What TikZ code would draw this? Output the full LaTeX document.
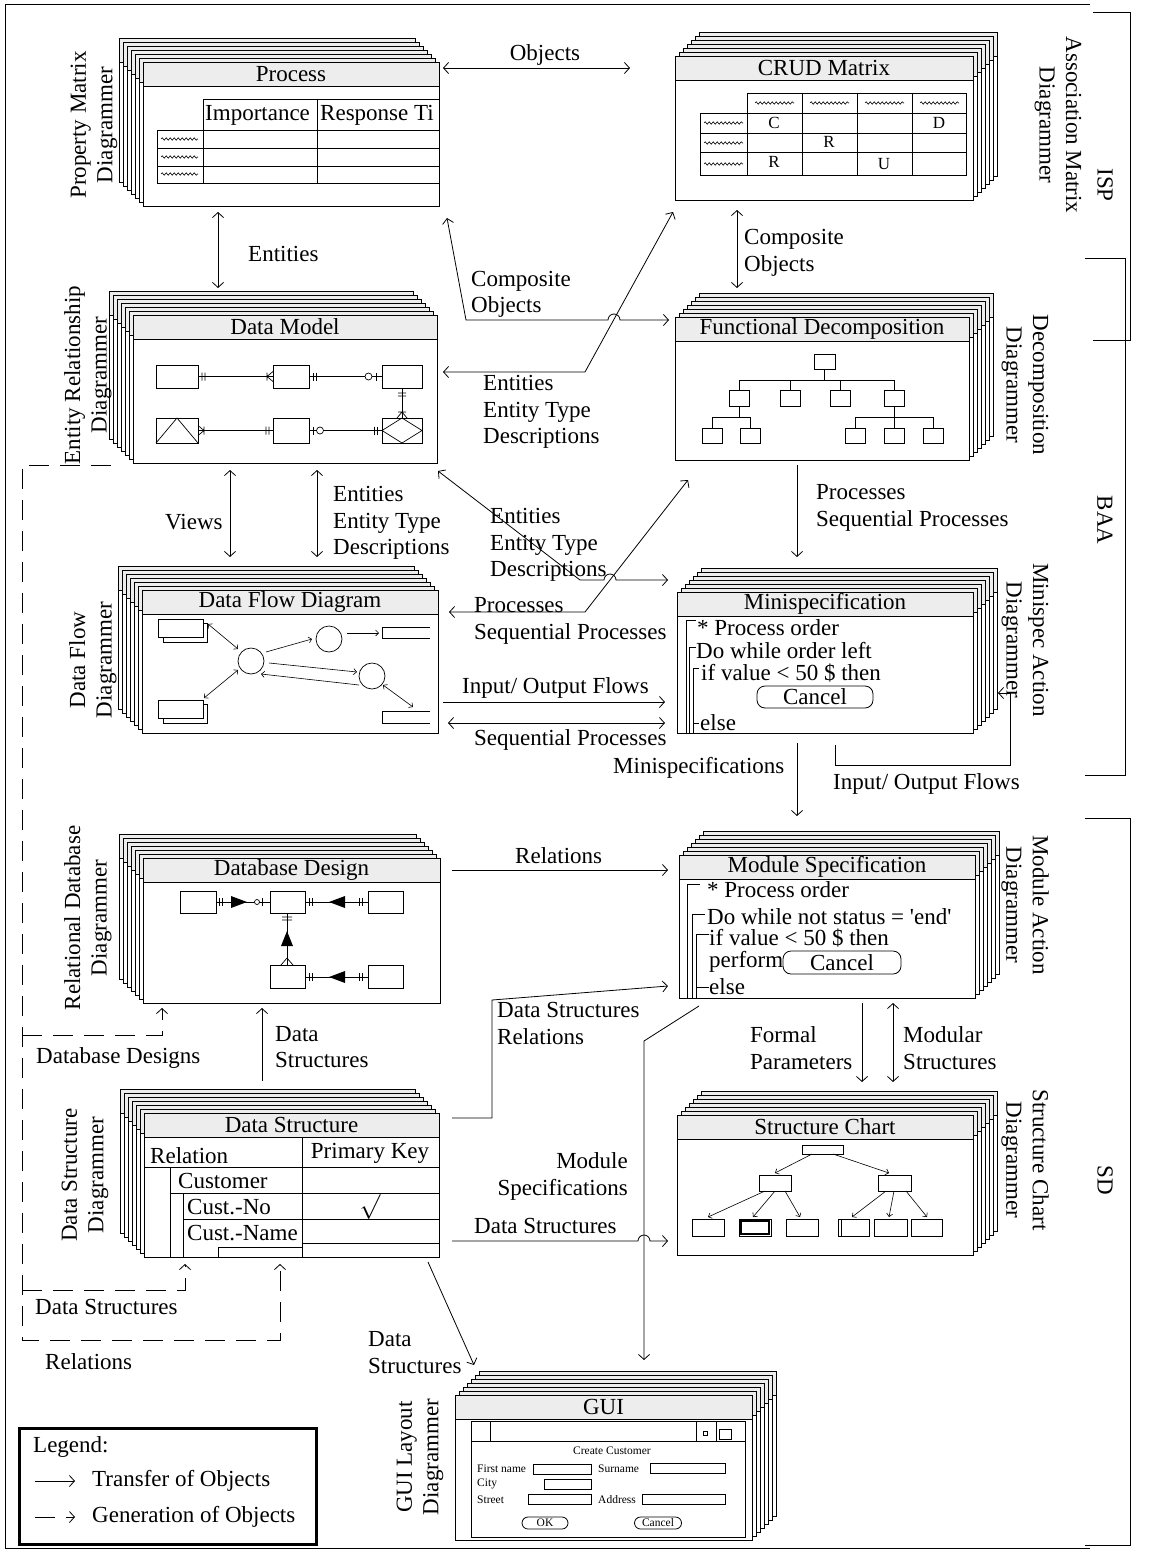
\documentclass[tikz,border=0pt]{standalone}
\usepackage{fontspec}
\setmainfont{Liberation Serif}
\usetikzlibrary{arrows.meta,decorations.pathmorphing,calc}
\colorlet{barfill}{black!7}

\newcommand\lblsize{\fontsize{23}{26.5}\selectfont}

% stack of diagram windows: name, x, y, width, height, shift sign, title
\newcommand\cardstack[7]{%
  \foreach \k in {6,5,...,1}{
    \draw[cardline,fill=white] (#2#6\k*4,#3-\k*4) rectangle ++(#4,#5);
    \draw[cardline,fill=barfill] (#2#6\k*4,#3-\k*4) rectangle ++(#4,24);
  }
  \node[cardbox,minimum width=#4pt,minimum height=#5pt,anchor=north west] (#1) at (#2,#3) {};
  \draw[cardline,fill=barfill] (#1.north west) rectangle ++(#4,24);
  \node[ttl] (#1t) at ($(#1.north west)+(#4/2,12)$) {#7};
}

\tikzset{
  cardline/.style={draw=black,line width=0.9pt},
  cardbox/.style={cardline,fill=white,inner sep=0pt,outer sep=0pt},
  ttl/.style={font=\lblsize,inner sep=0pt},
  lbl/.style={font=\lblsize,align=left,anchor=west,inner sep=0pt},
  rlbl/.style={font=\lblsize,align=right,anchor=east,inner sep=0pt},
  side/.style={font=\lblsize,align=center,inner sep=0pt},
  xfer/.style={line width=0.8pt,-{Straight Barb[length=5pt,width=11pt]}},
  xferb/.style={line width=0.8pt,{Straight Barb[length=5pt,width=11pt]}-{Straight Barb[length=5pt,width=11pt]}},
  gen/.style={xfer,dash pattern=on 20pt off 11pt},
  ln/.style={line width=0.7pt},
  mini/.style={line width=0.6pt,-{Straight Barb[length=3pt,width=6pt]}},
  minib/.style={line width=0.6pt,{Straight Barb[length=3pt,width=6pt]}-{Straight Barb[length=3pt,width=6pt]}},
  wave/.style={line width=0.6pt,decorate,decoration={snake,amplitude=1.2pt,segment length=4pt}},
  cell/.style={font=\fontsize{17}{19}\selectfont,inner sep=0pt},
  gtxt/.style={font=\fontsize{11.5}{13}\selectfont,inner sep=0pt,anchor=west},
  btn/.style={draw,line width=0.8pt,rounded corners=8pt,inner sep=0pt},
}

\begin{document}
\begin{tikzpicture}[x=1pt,y=-1pt]
\useasboundingbox (0,0) rectangle (1160,1552);

% frame and phase brackets
\draw[line width=1pt] (1090,5) -- (5,5) -- (5,1548) -- (1090,1548);
\draw[ln] (1093,12) -- (1130,12) -- (1130,340) -- (1093,340);
\draw[ln] (1085,258) -- (1125,258) -- (1125,775) -- (1085,775);
\draw[ln] (1085,818) -- (1130,818) -- (1130,1545) -- (1085,1545);
\node[side,rotate=-90] (isp) at (1105,185) {ISP};
\node[side,rotate=-90] (baa) at (1105,520) {BAA};
\node[side,rotate=-90] (sd) at (1105,1180) {SD};

% diagrammer windows
\cardstack{proc}{143}{62}{296}{144}{-}{Process}
\cardstack{crud}{675}{56}{298}{144}{+}{CRUD Matrix}
\cardstack{dmod}{133}{315}{304}{148}{-}{Data Model}
\cardstack{fdec}{675}{317}{294}{143}{+}{Functional Decomposition}
\cardstack{dfd}{142}{590}{296}{143}{-}{Data Flow Diagram}
\cardstack{mspec}{677}{592}{296}{141}{+}{Minispecification}
\cardstack{dbd}{143}{858}{297}{145}{-}{Database Design}
\cardstack{modspec}{679}{855}{296}{143}{+}{Module Specification}
\cardstack{dstr}{144}{1113}{295}{144}{-}{Data Structure}
\cardstack{schart}{677}{1115}{296}{140}{+}{Structure Chart}
\cardstack{gui}{455}{1395}{297}{145}{+}{GUI}

% property matrix
\begin{scope}
  \clip (proc.north west) rectangle (proc.south east);
  \draw[ln] (203,99) -- (440,99) (203,99) -- (203,183) (317,99) -- (317,183);
  \draw[ln] (157,130) -- (440,130) (157,148) -- (440,148) (157,166) -- (440,166) (157,183) -- (440,183) (157,130) -- (157,183);
  \node[ttl,anchor=west] (pimp) at (205,115) {Importance};
  \node[ttl,anchor=west] (presp) at (320,115) {Response Ti};
\end{scope}
\foreach \y in {139,157,174} \draw[wave] (161,\y) -- ++(37,0);

% crud matrix
\draw[ln] (747,93) rectangle (966,113) (700,113) rectangle (966,175);
\foreach \x in {747,802,857,912} \draw[ln] (\x,113) -- (\x,175);
\foreach \x in {802,857,912} \draw[ln] (\x,93) -- (\x,113);
\draw[ln] (700,133) -- (966,133) (700,152) -- (966,152);
\foreach \x in {755,810,865,920} \draw[wave] (\x,103) -- ++(39,0);
\foreach \y in {123,143,164} \draw[wave] (704,\y) -- ++(39,0);
\node[cell] (cc) at (774,123) {C};
\node[cell] (cd) at (939,123) {D};
\node[cell] (cr1) at (829,142) {R};
\node[cell] (cr2) at (774,162) {R};
\node[cell] (cu) at (884,164) {U};

% data model
\draw[ln] (156,365) rectangle (198,388) (273,365) rectangle (309,388) (382,365) rectangle (422,388);
\draw[ln] (156,418) rectangle (198,443) (273,418) rectangle (309,443) (382,418) rectangle (422,443);
\draw[ln] (156,443) -- (177,418) -- (198,443);
\draw[ln] (382,430.5) -- (402,418) -- (422,430.5) -- (402,443) -- cycle;
\draw[ln] (198,376.5) -- (273,376.5) (309,376.5) -- (382,376.5) (402,388) -- (402,418)
  (198,430.5) -- (273,430.5) (309,430.5) -- (382,430.5);
\draw[ln] (202,372.5) -- ++(0,8) (205,372.5) -- ++(0,8) (267,372.5) -- ++(0,8)
  (267,376.5) -- (273,371.5) (267,376.5) -- (273,381.5);
\draw[ln] (313,372.5) -- ++(0,8) (316,372.5) -- ++(0,8) (376,372.5) -- ++(0,8);
\draw[ln,fill=white] (368.5,376.5) circle[radius=3.5pt];
\draw[ln] (398,393) -- ++(8,0) (398,396) -- ++(8,0) (398,412) -- ++(8,0)
  (402,412) -- (397,418) (402,412) -- (407,418);
\draw[ln] (204,426.5) -- ++(0,8) (204,430.5) -- (198,425.5) (204,430.5) -- (198,435.5)
  (266,426.5) -- ++(0,8) (269,426.5) -- ++(0,8);
\draw[ln] (313,426.5) -- ++(0,8) (374,426.5) -- ++(0,8) (377,426.5) -- ++(0,8);
\draw[ln,fill=white] (320,430.5) circle[radius=3.5pt];

% functional decomposition
\draw[ln] (814,354) rectangle (835,369) (824.5,369) -- (824.5,380);
\draw[ln] (739,390) -- (739,380) -- (894,380) -- (894,390) (790,380) -- (790,390) (840,380) -- (840,390);
\draw[ln] (729,390) rectangle (749,406) (780,390) rectangle (800,406) (830,390) rectangle (850,406) (884,390) rectangle (904,406);
\draw[ln] (739,406) -- (739,417) (712,428) -- (712,417) -- (750,417) -- (750,428);
\draw[ln] (702,428) rectangle (722,443) (740,428) rectangle (760,443);
\draw[ln] (894,406) -- (894,428) (855,428) -- (855,417) -- (933,417) -- (933,428);
\draw[ln] (845,428) rectangle (865,443) (884,428) rectangle (904,443) (923,428) rectangle (943,443);

% data flow diagram
\draw[ln,fill=white] (163,623) rectangle (207,642);
\draw[ln,fill=white] (158,619) rectangle (203,637);
\draw[ln,fill=white] (163,704) rectangle (207,723);
\draw[ln,fill=white] (158,700) rectangle (203,718);
\draw[ln] (251,661) circle[radius=13pt] (329,639) circle[radius=13pt] (372,676) circle[radius=13pt];
\draw[ln] (430,627) -- (382,627) -- (382,638) -- (430,638);
\draw[ln] (430,711) -- (382,711) -- (382,723) -- (430,723);
\draw[minib] (208,624) -- (238,649);
\draw[minib] (204,698) -- (238,670);
\draw[mini] (266,652) -- (312,639);
\draw[mini] (347,633) -- (379,633);
\draw[mini] (269,663) -- (357,672);
\draw[mini] (359,685) -- (261,674);
\draw[minib] (383,685) -- (413,707);

% minispecification
\draw[ln] (696,620) -- (686,620) -- (686,733) (696,647) -- (689,647) -- (689,733)
  (699,668) -- (693,668) -- (693,733) (693,723) -- (699,723);
\node[lbl] (ms1) at (697,628) {* Process order};
\node[lbl] (ms2) at (696,651) {Do while order left};
\node[lbl] (ms3) at (701,673) {if value < 50 \$ then};
\node[btn,ttl,minimum width=116pt,minimum height=22pt] (ms4) at (815,697) {Cancel};
\node[lbl] (ms5) at (700,723) {else};

% database design
\draw[ln] (180,891) rectangle (216,913) (270,891) rectangle (305,913) (368,891) rectangle (403,913);
\draw[ln] (270,965) rectangle (305,988) (368,965) rectangle (403,988);
\draw[ln] (216,902) -- (270,902) (305,902) -- (368,902) (287,913) -- (287,965) (305,977) -- (368,977);
\draw[ln] (219,898) -- ++(0,8) (222,898) -- ++(0,8) (262,898) -- ++(0,8);
\fill (231,896) -- (247,902) -- (231,908) -- cycle;
\draw[ln,fill=white] (257,902) circle[radius=2.5pt];
\draw[ln] (309,898) -- ++(0,8) (312,898) -- ++(0,8) (359,898) -- ++(0,8) (362,898) -- ++(0,8);
\fill (345,896) -- (329,902) -- (345,908) -- cycle;
\draw[ln] (282,917) -- ++(10,0) (282,920) -- ++(10,0) (287,958) -- (281,965) (287,958) -- (293,965);
\fill (281,946) -- (287,931) -- (293,946) -- cycle;
\draw[ln] (309,973) -- ++(0,8) (312,973) -- ++(0,8) (359,973) -- ++(0,8) (362,973) -- ++(0,8);
\fill (345,971) -- (329,977) -- (345,983) -- cycle;

% module specification
\draw[ln] (700,884) -- (687,884) -- (687,998) (705,914) -- (692,914) -- (692,998)
  (709,934) -- (696,934) -- (696,998) (696,987) -- (709,987);
\node[lbl] (mo1) at (707,890) {* Process order};
\node[lbl] (mo2) at (707,917) {Do while not status = \textquotesingle end\textquotesingle};
\node[lbl] (mo3) at (709,938) {if value < 50 \$ then};
\node[lbl] (mo4) at (709,962) {perform};
\node[btn,ttl,minimum width=118pt,minimum height=23pt] (mo5) at (842,962.5) {Cancel};
\node[lbl] (mo6) at (709,987) {else};

% data structure
\draw[ln] (302,1137) -- (302,1257) (144,1167) -- (439,1167) (170,1167) -- (170,1257)
  (170,1193) -- (439,1193) (183,1193) -- (183,1257) (183,1219) -- (439,1219)
  (302,1243) -- (439,1243) (218,1257) -- (218,1247) -- (302,1247);
\node[lbl] (dsrel) at (150,1156) {Relation};
\node[ttl] (dspk) at (370,1153) {Primary Key};
\node[lbl] (dscus) at (178,1181) {Customer};
\node[lbl] (dsno) at (187,1207) {Cust.-No};
\node[ttl] (dschk) at (370,1207) {$\surd$};
\node[lbl] (dsname) at (187,1233) {Cust.-Name};

% structure chart
\draw[ln] (802,1145) rectangle (843,1154) (759,1175) rectangle (791,1191) (878,1175) rectangle (911,1191);
\draw[ln] (692,1219) rectangle (724,1236) (739,1219) rectangle (771,1236) (786,1219) rectangle (818,1236)
  (838,1219) rectangle (869,1236) (874,1219) rectangle (907,1236) (911,1219) rectangle (942,1236);
\draw[line width=1.6pt] (741,1221) rectangle (769,1234);
\draw[ln] (841,1219) -- (841,1236);
\draw[mini] (812,1154) -- (775,1173);
\draw[mini] (833,1154) -- (889,1173);
\draw[mini] (765,1191) -- (708,1217);
\draw[mini] (775,1191) -- (753,1217);
\draw[mini] (785,1191) -- (800,1217);
\draw[mini] (886,1191) -- (852,1217);
\draw[mini] (894,1191) -- (889,1217);
\draw[mini] (906,1191) -- (927,1217);

% gui layout
\draw[ln] (471,1421) rectangle (745,1537) (471,1441) -- (745,1441) (490,1421) -- (490,1441)
  (696,1421) -- (696,1441) (716,1421) -- (716,1441);
\draw[ln] (703,1431) rectangle (707,1435) (719,1429) rectangle (731,1439);
\node[gtxt,anchor=center] (gcc) at (612,1451) {Create Customer};
\node[gtxt] (gfn) at (477,1469) {First name};
\node[gtxt] (gsn) at (598,1469) {Surname};
\node[gtxt] (gcity) at (477,1484) {City};
\node[gtxt] (gst) at (477,1500) {Street};
\node[gtxt] (gad) at (598,1500) {Address};
\draw[ln] (533,1464) rectangle (591,1474) (650,1463) rectangle (725,1473) (544,1479) rectangle (591,1489)
  (528,1494) rectangle (591,1504) (642,1494) rectangle (725,1504);
\node[btn,gtxt,anchor=center,rounded corners=6pt,minimum width=46pt,minimum height=12pt] (gok) at (545,1523) {OK};
\node[btn,gtxt,anchor=center,rounded corners=6pt,minimum width=47pt,minimum height=12pt] (gcan) at (658,1523) {Cancel};

% diagrammer names
\node[side,rotate=90] (npm) at (94,125) {Property Matrix\\Diagrammer};
\node[side,rotate=90] (ner) at (88,375) {Entity Relationship\\Diagrammer};
\node[side,rotate=90] (ndf) at (93,660) {Data Flow\\Diagrammer};
\node[side,rotate=90] (nrd) at (88,918) {Relational Database\\Diagrammer};
\node[side,rotate=90] (nds) at (85,1175) {Data Structure\\Diagrammer};
\node[side,rotate=90] (ngui) at (420,1457) {GUI Layout\\Diagrammer};
\node[side,rotate=-90] (nam) at (1058,125) {Association Matrix\\Diagrammer};
\node[side,rotate=-90] (ndd) at (1025,385) {Decomposition\\Diagrammer};
\node[side,rotate=-90] (nma) at (1025,640) {Minispec Action\\Diagrammer};
\node[side,rotate=-90] (nmo) at (1025,905) {Module Action\\Diagrammer};
\node[side,rotate=-90] (nsc) at (1025,1160) {Structure Chart\\Diagrammer};

% transfers
\draw[xferb] ($(proc.north east)+(4,6)$) -- ($(crud.north west)+(-45,12)$);
\draw[xferb] ($(proc.south west)+(75,6)$) -- ($(dmod.north west)+(85,-27)$);
\draw[xferb] ($(proc.south east)+(8,12)$) -- ++(19,102) -- ++(142,0)
  arc[start angle=180,end angle=0,radius=6pt] -- ($(fdec.north west)+(-6,3)$);
\draw[xferb] ($(crud.south west)+(62,10)$) -- ($(fdec.north west)+(62,-29)$);
\draw[xferb] ($(dmod.north east)+(6,57)$) -- ++(142,0) -- ($(crud.south west)+(-2,12)$);
\draw[xferb] ($(dmod.south west)+(97,7)$) -- ($(dfd.north west)+(88,-33)$);
\draw[xferb] ($(dmod.south west)+(184,7)$) -- ($(dfd.north west)+(175,-33)$);
\draw[xferb] ($(dmod.south east)+(1,8)$) -- ++(142,109) -- ++(24,0)
  arc[start angle=180,end angle=0,radius=6pt] -- ($(mspec.north west)+(-9,-12)$);
\draw[xferb] ($(dfd.north east)+(11,22)$) -- ++(136,0) -- ($(fdec.south west)+(13,20)$);
\draw[xfer] ($(fdec.south west)+(122,5)$) -- ($(mspec.north west)+(120,-35)$);
\draw[xfer] ($(dfd.north east)+(5,112)$) -- ($(mspec.north west)+(-12,110)$);
\draw[xferb] ($(dfd.north east)+(10,133)$) -- ($(mspec.north west)+(-12,131)$);
\draw[xfer] ($(mspec.south west)+(120,10)$) -- ($(modspec.north west)+(118,-39)$);
\draw[xfer] ($(mspec.south west)+(158,12)$) -- ++(0,20) -- ++(175,0) -- ++(0,-72) -- ($(mspec.north east)+(25,101)$);
\draw[xfer] ($(dbd.north east)+(12,12)$) -- ($(modspec.north west)+(-11,15)$);
\draw[xfer] ($(dstr.north east)+(13,5)$) -- ++(40,0) -- ++(0,-118) -- ($(modspec.south west)+(-11,-12)$);
\draw[xfer] ($(dstr.north west)+(118,-32)$) -- ($(dbd.south west)+(119,5)$);
\draw[xfer] ($(modspec.south west)+(20,8)$) -- ++(-55,35) -- ($(gui.north west)+(189,-35)$);
\draw[xfer] ($(modspec.south west)+(183,5)$) -- ($(schart.north west)+(185,-33)$);
\draw[xferb] ($(modspec.south west)+(214,5)$) -- ($(schart.north west)+(216,-33)$);
\draw[xfer] ($(dstr.north east)+(13,128)$) -- ++(186,0)
  arc[start angle=180,end angle=0,radius=6pt] -- ($(schart.north west)+(-9,126)$);
\draw[xfer] ($(dstr.south east)+(-11,5)$) -- ($(gui.north west)+(19,-30)$);

% generations
\draw[gen] ($(dmod.south west)+(-22,2)$) -- ++(-89,0) -- ++(0,875) -- ++(258,0) -- ($(dstr.south west)+(136,7)$);
\draw[gen] ($(dmod.south west)+(-111,572)$) -- ++(140,0) -- ($(dbd.south west)+(19,5)$);
\draw[gen] ($(dmod.south west)+(-111,827)$) -- ++(163,0) -- ($(dstr.south west)+(41,7)$);

% connector labels
\node[lbl,anchor=center] (lobj) at (545,55) {Objects};
\node[lbl] (lent) at (248,254) {Entities};
\node[lbl] (lco1) at (471,294.5) {Composite\\Objects};
\node[lbl] (lco2) at (744,253) {Composite\\Objects};
\node[lbl] (lete1) at (483,412) {Entities\\Entity Type\\Descriptions};
\node[lbl] (lviews) at (165,522) {Views};
\node[lbl] (lete2) at (333,523) {Entities\\Entity Type\\Descriptions};
\node[lbl] (lete3) at (490,545) {Entities\\Entity Type\\Descriptions};
\node[lbl] (lpro1) at (816,508) {Processes\\Sequential Processes};
\node[lbl] (lpro2) at (474,621) {Processes\\Sequential Processes};
\node[lbl] (lio1) at (462,688) {Input/ Output Flows};
\node[lbl] (lseq) at (474,740) {Sequential Processes};
\node[lbl] (lmini) at (613,768) {Minispecifications};
\node[lbl] (lio2) at (833,784) {Input/ Output Flows};
\node[lbl] (lrel1) at (515,856) {Relations};
\node[lbl] (ldsr) at (497,1023.5) {Data Structures\\Relations};
\node[lbl] (ldbd) at (36,1058) {Database Designs};
\node[lbl] (lds1) at (275,1047) {Data\\Structures};
\node[lbl] (lfp) at (750,1048) {Formal\\Parameters};
\node[lbl] (lmod) at (903,1048) {Modular\\Structures};
\node[rlbl] (lms) at (628,1176.5) {Module\\Specifications};
\node[lbl] (lds2) at (474,1226) {Data Structures};
\node[lbl] (lds3) at (35,1307) {Data Structures};
\node[lbl] (lrel2) at (45,1362) {Relations};
\node[lbl] (lds4) at (368,1352.5) {Data\\Structures};

% legend
\node[draw,line width=2.5pt,minimum width=297pt,minimum height=116pt,anchor=north west,inner sep=0pt] (legend) at (18,1427) {};
\node[lbl] (lglg) at (33,1447) {Legend:};
\draw[xfer] ($(legend.north west)+(17,54)$) -- ++(40,0);
\node[lbl] (lgtr) at (92,1481) {Transfer of Objects};
\draw[gen] ($(legend.north west)+(17,90)$) -- ++(40,0);
\node[lbl] (lggen) at (92,1517) {Generation of Objects};
\end{tikzpicture}
\end{document}
